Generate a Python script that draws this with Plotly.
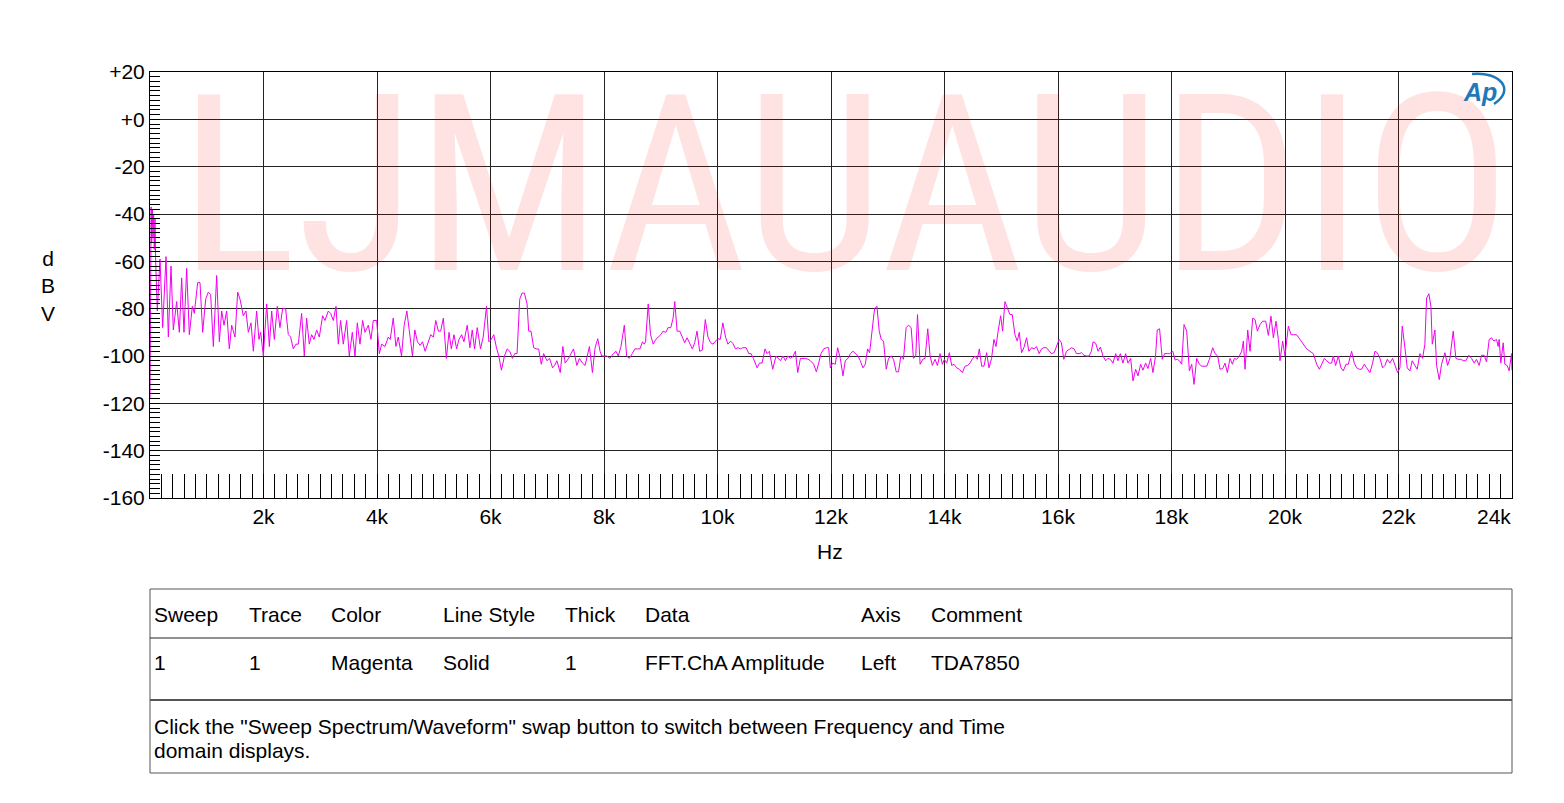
import plotly.graph_objects as go

# ---------------- data ----------------
seg0_hz = [0, 10, 20, 30, 41, 53, 64, 76, 88, 100, 129]
seg0_db = [-118, -40, -37, -52, -38, -50, -40, -55, -42, -60, -81]

segA_hz = [176, 223, 282, 323, 370, 411, 470, 517, 558, 599, 646, 693, 746, 781, 840, 881, 928, 981,
           1028, 1069, 1116, 1175, 1222, 1263, 1304, 1351, 1398, 1439, 1498, 1545, 1586, 1644, 1691,
           1733, 1780, 1821, 1879, 1920, 1950, 1997, 2056, 2103, 2144, 2191, 2243, 2290, 2337, 2390,
           2437, 2478, 2525, 2572, 2613, 2672, 2719, 2760, 2807, 2848, 2889, 2937, 2983, 3042, 3083,
           3142, 3183, 3230, 3277, 3318, 3359, 3406, 3465, 3512, 3565, 3612, 3653, 3700, 3747, 3788,
           3847, 3894, 3935, 3994, 4041, 4082, 4140, 4199]
segA_db = [-59, -88, -58, -92, -62, -89, -77, -90, -67, -90, -63, -91, -79, -82, -69, -69, -90, -76,
           -73, -74, -96, -66, -94, -81, -87, -81, -97, -87, -92, -73, -76, -83, -81,
           -90, -86, -98, -81, -93, -90, -100, -78, -96, -81, -93, -79, -88, -80, -80,
           -91, -92, -97, -95, -95, -82, -100, -84, -95, -91, -93, -89, -92, -83, -85,
           -81, -82, -85, -79, -95, -85, -95, -85, -100, -90, -100, -86, -95, -85, -90,
           -87, -93, -85, -85, -99, -95, -96, -92]

segB_hz = [4233, 4286, 4333, 4374, 4432, 4479, 4526, 4567, 4625, 4666, 4713, 4760, 4801, 4848, 4900,
           4947, 4994, 5035, 5082, 5122, 5169, 5222, 5269, 5310, 5356, 5403, 5444, 5491, 5532, 5590,
           5637, 5678, 5719, 5766, 5824, 5871, 5930, 5971, 6012, 6058, 6105, 6146, 6193, 6246, 6293,
           6339, 6386, 6427, 6468, 6515, 6556, 6597, 6644, 6673, 6714, 6761, 6807, 6848, 6895, 6936,
           6995, 7041, 7094, 7129, 7170, 7229, 7275, 7316, 7375, 7422, 7463, 7521, 7568, 7620, 7667,
           7743, 7796, 7843, 7890, 7931, 7960, 8001, 8048, 8106, 8165, 8211, 8252, 8299, 8358, 8399,
           8445, 8498, 8545, 8592, 8633, 8679, 8709, 8732, 8779, 8820, 8867, 8913, 8954, 9001, 9042,
           9089, 9130, 9177, 9218, 9247, 9288, 9335, 9381, 9422, 9463, 9510, 9557, 9598, 9639, 9686,
           9732, 9785, 9832, 9879, 9920, 9966, 10007, 10048, 10095, 10142, 10183, 10230, 10271, 10317,
           10358, 10405, 10446, 10505, 10551, 10592, 10633, 10698, 10739, 10785, 10838, 10873, 10914,
           10973, 11031]
segB_db = [-93, -84, -96, -92, -100, -87, -81, -90, -100, -89, -94, -95.5, -94, -98, -94,
           -91, -92, -85, -89.5, -89.5, -84, -101, -90, -97, -91, -97, -93, -91, -94, -87,
           -96.5, -89, -97, -88, -97, -92, -79, -94, -93, -91, -96.5, -100, -106, -100, -97,
           -98, -101, -99, -99, -76, -73.4, -73.4, -78, -89.5, -89.5, -96.5, -97, -97, -103.5, -99,
           -102, -101, -105, -104, -102, -107, -96, -103, -101, -98.6, -97, -104, -101, -103, -104,
           -96, -107, -96.5, -92.7, -98, -100, -100, -100, -101, -99, -98, -100, -96, -87, -100,
           -101, -99, -97, -97, -97, -94, -95, -94, -78, -91, -95, -93, -92, -91, -89.5,
           -90, -88, -88, -84, -77, -89.5, -89.5, -92, -94.4, -92.3, -95, -97, -94.4, -89.5, -98,
           -97.5, -84.6, -92, -94.4, -95, -93.7, -92.7, -93, -86, -92, -95, -93.7, -94.7, -97,
           -96.5, -97, -96.5, -96.5, -99, -99, -101, -105, -103, -103, -97, -99, -98,
           -105.6, -100]

segC_hz = [11109, 11156, 11197, 11238, 11285, 11332, 11373, 11414, 11461, 11508, 11549, 11596, 11637,
           11695, 11742, 11783, 11824, 11871, 11918, 11959, 11988, 12029, 12076, 12117, 12164, 12211,
           12252, 12299, 12340, 12387, 12434, 12475, 12516, 12563, 12604, 12645, 12680, 12721, 12768,
           12809, 12850, 12885, 12926, 12973, 13014, 13061, 13102, 13149, 13190, 13231, 13277, 13324,
           13365, 13412, 13453, 13494, 13524, 13570, 13617, 13658, 13705, 13746, 13787, 13834, 13875,
           13922, 13963, 13998, 14039, 14086, 14127, 14168, 14215, 14262, 14315, 14362, 14408, 14449,
           14496, 14537, 14578, 14614, 14655, 14696, 14742, 14784, 14830, 14871, 14907, 14948, 14989,
           15024, 15065, 15112, 15153, 15194, 15241, 15282, 15317, 15358, 15399, 15446, 15487, 15534,
           15580, 15621, 15668, 15709, 15750, 15797, 15844, 15885, 15932, 15973, 16020, 16061, 16102,
           16149, 16196, 16237, 16284, 16325, 16372, 16413, 16459, 16500, 16547, 16588, 16618, 16665,
           16706, 16747, 16793, 16840, 16881, 16922, 16969, 17016, 17057, 17098, 17145, 17192, 17233,
           17280, 17321, 17368, 17409, 17456, 17497, 17544, 17585, 17632, 17673, 17719, 17749, 17790,
           17837, 17878, 17925, 17966]
segC_db = [-102, -100, -102, -100, -101, -100, -98, -107, -101, -101, -101, -101.4, -102,
           -103.5, -106.7, -103, -99, -97, -96.5, -96.5, -105, -103, -103.5, -96.5, -101, -108.4,
           -102, -101, -99, -98, -99, -100, -102, -105, -103.5, -97, -98.6, -89.5, -80,
           -79, -89.5, -93, -93.7, -105.6, -101, -100, -101.4, -106.7, -106.7, -100, -101.4, -88,
           -87, -88, -101, -100, -82.5, -103.5, -101.4, -101, -88.5, -100, -104, -101.4, -104,
           -99, -103.5, -101.4, -103, -98.6, -104, -103.5, -105, -105.6, -107, -104.3, -104, -103,
           -101, -100, -101.4, -97, -104.3, -104.3, -98.6, -105, -101, -93, -96, -89, -83,
           -89.5, -77, -80, -82.5, -82.5, -91, -93.7, -90, -98.6, -96.5, -92.3, -98, -96.5,
           -97, -96, -99, -97, -96.5, -96.5, -98, -99, -98.6, -96, -93, -94.4, -101.4,
           -98, -97, -96.5, -97, -99, -99, -98.6, -99.7, -100, -100, -98, -94, -94.7,
           -98, -96.2, -100, -102, -101, -101.4, -103, -99, -102, -99, -103, -99, -103,
           -101, -110.5, -105.6, -108.4, -103.5, -106, -103, -105.3, -101, -107, -100, -89, -88.5,
           -101.4, -99, -99, -99]

segD_hz = [18022, 18063, 18104, 18139, 18180, 18221, 18268, 18315, 18356, 18397, 18444, 18491, 18532,
           18574, 18621, 18668, 18726, 18767, 18814, 18855, 18902, 18943, 18984, 19031, 19073, 19108,
           19149, 19196, 19237, 19266, 19296, 19343, 19384, 19431, 19472, 19513, 19560, 19607, 19660,
           19707, 19753, 19795, 19842, 19883, 19912, 19959, 20000, 20059, 20106, 20147, 20205, 20264,
           20323, 20382, 20440, 20499, 20558, 20605, 20646, 20693, 20734, 20781, 20822, 20851, 20892,
           20939, 20986, 21027, 21074, 21115, 21174, 21221, 21262, 21309, 21350, 21397, 21438, 21497,
           21544, 21585, 21626, 21673, 21720, 21761, 21802, 21849, 21896, 21937, 21984, 22025, 22066,
           22113, 22154, 22201, 22242, 22289, 22330, 22377, 22424, 22465, 22495, 22536, 22571, 22595,
           22642, 22671, 22718, 22759, 22818, 22865, 22906, 22964, 23011, 23052, 23099, 23140, 23187,
           23240, 23287, 23334, 23375, 23422, 23463, 23510, 23551, 23598, 23639, 23680, 23727, 23756,
           23774, 23803, 23845, 23874, 23915, 23950, 23991, 24000]
segD_db = [-98, -101.7, -101.4, -102, -103.5, -86.7, -89.5, -106.3, -103.5, -112, -101, -103.5, -104.3,
           -104.3, -104.3, -101.4, -96.5, -99, -100, -105.6, -105.3, -103, -107, -101, -103.5, -101,
           -101.4, -100, -98, -93.7, -105.6, -89, -98, -84, -84.6, -89.5, -86.7, -85.3, -85.3,
           -91.3, -83.2, -92.3, -85.3, -93, -102, -93.7, -100, -87.4, -91, -91, -91, -93,
           -95, -97, -98, -99, -103.5, -105.6, -103.5, -101, -102, -103, -103, -100, -104,
           -100, -105, -106.3, -103.5, -103.5, -98, -103, -105, -105.6, -105.6, -103.5, -105, -107,
           -103, -98, -98.6, -101, -105, -104, -101.4, -103, -101, -103.5, -107, -105, -87.4,
           -96.5, -105, -106.3, -102, -104, -105.6, -99, -101, -95, -75.5, -73.7, -79, -95,
           -89, -104, -110, -103.5, -98.6, -104, -101, -89.5, -101, -101.4, -101.4, -102, -102,
           -99.7, -101, -103, -101.4, -104, -99.7, -99.7, -102.5, -93, -92.3, -93.7, -93, -96,
           -93, -103, -94.4, -103.5, -104, -106.3, -99, -106]

freq_hz = seg0_hz + segA_hz + segB_hz + segC_hz + segD_hz
level_dbv = seg0_db + segA_db + segB_db + segC_db + segD_db

y_tick_vals = [20, 0, -20, -40, -60, -80, -100, -120, -140, -160]
y_tick_text = ["+20", "+0", "-20", "-40", "-60", "-80", "-100", "-120", "-140", "-160"]
x_tick_vals = [2000, 4000, 6000, 8000, 10000, 12000, 14000, 16000, 18000, 20000, 22000, 24000]
x_tick_text = ["2k", "4k", "6k", "8k", "10k", "12k", "14k", "16k", "18k", "20k", "22k", "24k"]

table_headers = ["Sweep", "Trace", "Color", "Line Style", "Thick", "Data", "Axis", "Comment"]
table_row = ["1", "1", "Magenta", "Solid", "1", "FFT.ChA Amplitude", "Left", "TDA7850"]
note_lines = ['Click the "Sweep Spectrum/Waveform" swap button to switch between Frequency and Time',
              "domain displays."]
watermark = "LJMAUAUDIO"

# ---------------- layout helpers (screen pixel -> paper) ----------------
OFF = 8                      # page body margin
W, H = 1564 - 2 * OFF, 803 - 2 * OFF
L, R, T, B = 150, 1512, 72, 498   # plot area in screen pixels
def fx(px):
    return (px - L) / (R - L)
def fy(py):
    return (B - py) / (B - T)

FONT = "Liberation Sans, Arial, sans-serif"
FS = 21

fig = go.Figure()
fig.add_trace(go.Scatter(x=freq_hz, y=level_dbv, mode="lines",
                         line=dict(color="#F000F0", width=1), hoverinfo="skip"))

annotations = []
# watermark
annotations.append(dict(text=watermark, x=fx(845), y=fy(185), xref="paper", yref="paper",
                        xanchor="center", yanchor="middle", showarrow=False,
                        font=dict(family="Roboto Condensed, DejaVu Sans Condensed, Liberation Sans",
                                  size=247, color="rgba(255,0,0,0.11)")))
# AP logo
annotations.append(dict(text="<b><i>Ap</i></b>", x=fx(1480), y=fy(92), xref="paper", yref="paper",
                        xanchor="center", yanchor="middle", showarrow=False,
                        font=dict(family=FONT, size=25, color="#1F78B8")))
# last x tick label sits flush with the right edge of the plot
annotations.append(dict(text=x_tick_text[-1], x=fx(1513), y=fy(516), xref="paper", yref="paper",
                        xanchor="right", yanchor="middle", showarrow=False,
                        font=dict(family=FONT, size=FS, color="black")))
# axis titles
annotations.append(dict(text="d<br>B<br>V", x=fx(48), y=fy(286), xref="paper", yref="paper",
                        xanchor="center", yanchor="middle", showarrow=False,
                        font=dict(family=FONT, size=FS, color="black")))
annotations.append(dict(text="Hz", x=fx(830), y=fy(551), xref="paper", yref="paper",
                        xanchor="center", yanchor="middle", showarrow=False,
                        font=dict(family=FONT, size=FS, color="black")))
# table
col_px = [152, 247, 329, 441, 563, 643, 859, 929]
for cx, h, v in zip(col_px, table_headers, table_row):
    annotations.append(dict(text=h, x=fx(cx), y=fy(614), xref="paper", yref="paper",
                            xanchor="left", yanchor="middle", showarrow=False,
                            font=dict(family=FONT, size=FS, color="black")))
    annotations.append(dict(text=v, x=fx(cx), y=fy(662), xref="paper", yref="paper",
                            xanchor="left", yanchor="middle", showarrow=False,
                            font=dict(family=FONT, size=FS, color="black")))
for i, line in enumerate(note_lines):
    annotations.append(dict(text=line, x=fx(152), y=fy(726 + 24 * i), xref="paper", yref="paper",
                            xanchor="left", yanchor="middle", showarrow=False,
                            font=dict(family=FONT, size=FS, color="black")))

shapes = [
    dict(type="rect", xref="paper", yref="paper", x0=fx(150), x1=fx(1512), y0=fy(589), y1=fy(773),
         line=dict(color="#555", width=1)),
    dict(type="line", xref="paper", yref="paper", x0=fx(150), x1=fx(1512), y0=fy(638), y1=fy(638),
         line=dict(color="#222", width=1)),
    dict(type="line", xref="paper", yref="paper", x0=fx(150), x1=fx(1512), y0=fy(700), y1=fy(700),
         line=dict(color="#555", width=2)),
    dict(type="path", xref="paper", yref="paper",
         path="M {},{} C {},{} {},{} {},{}".format(fx(1472), fy(74), fx(1500), fy(71),
                                                    fx(1516), fy(90), fx(1494), fy(104)),
         line=dict(color="#1F78B8", width=2.5)),
]

fig.update_layout(
    width=W, height=H,
    margin=dict(l=L - OFF, r=W - (R - OFF), t=T - OFF, b=H - (B - OFF)),
    paper_bgcolor="white", plot_bgcolor="white",
    showlegend=False,
    font=dict(family=FONT, size=FS, color="black"),
    annotations=annotations, shapes=shapes,
    xaxis=dict(range=[0, 24000], tickmode="array", tickvals=x_tick_vals,
               ticktext=x_tick_text[:-1] + [""],
               showgrid=True, gridcolor="#222", gridwidth=1, zeroline=False,
               showline=True, linecolor="black", linewidth=1, mirror=True,
               ticks="inside", ticklen=24, tickcolor="black", tickwidth=1,
               tickfont=dict(family=FONT, size=FS, color="black"),
               minor=dict(tickmode="linear", tick0=0, dtick=200, ticks="inside", ticklen=24,
                          tickcolor="black", tickwidth=1, showgrid=False)),
    yaxis=dict(range=[-160, 20], tickmode="array", tickvals=y_tick_vals, ticktext=y_tick_text,
               showgrid=True, gridcolor="#222", gridwidth=1, zeroline=False,
               showline=True, linecolor="black", linewidth=1, mirror=True,
               ticks="inside", ticklen=10, tickcolor="black", tickwidth=1,
               tickfont=dict(family=FONT, size=FS, color="black"),
               minor=dict(tickmode="linear", tick0=0, dtick=2, ticks="inside", ticklen=10,
                          tickcolor="black", tickwidth=1, showgrid=False)),
)

fig.write_html("out.html")
